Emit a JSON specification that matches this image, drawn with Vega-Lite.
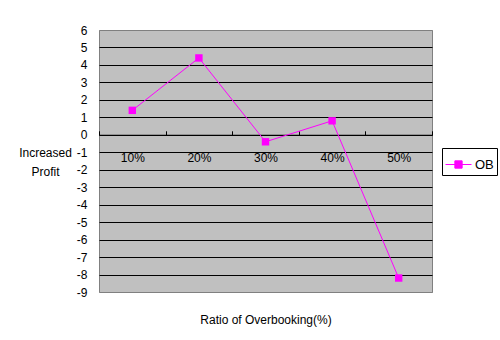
{
  "$schema": "https://vega.github.io/schema/vega-lite/v6.json",
  "autosize": "none",
  "width": 333,
  "height": 262,
  "padding": {"left": 99, "top": 30, "right": 68, "bottom": 48},
  "background": "white",
  "config": {
    "font": "Liberation Sans",
    "view": {"fill": "#c0c0c0", "stroke": "#808080", "strokeWidth": 1}
  },
  "data": {
    "values": [
      {"ratio": "10%", "profit": 1.4, "series": "OB"},
      {"ratio": "20%", "profit": 4.4, "series": "OB"},
      {"ratio": "30%", "profit": -0.4, "series": "OB"},
      {"ratio": "40%", "profit": 0.8, "series": "OB"},
      {"ratio": "50%", "profit": -8.2, "series": "OB"}
    ]
  },
  "layer": [
    {
      "mark": {"type": "line", "strokeWidth": 1},
      "encoding": {
        "x": {
          "field": "ratio", "type": "nominal",
          "scale": {"type": "band", "paddingInner": 0, "paddingOuter": 0},
          "axis": {
            "orient": "bottom",
            "offset": -157.2,
            "labelAngle": 0,
            "labelFontSize": 12,
            "labelColor": "black",
            "labelPadding": 22,
            "tickBand": "extent",
            "tickSize": -4,
            "tickColor": "black",
            "domainColor": "black",
            "domainWidth": 1.2,
            "grid": false,
            "title": "Ratio of Overbooking(%)",
            "titleFontSize": 12,
            "titleFontWeight": "normal",
            "titleColor": "black",
            "titleY": 184.2,
            "titleBaseline": "middle"
          }
        },
        "y": {
          "field": "profit", "type": "quantitative",
          "scale": {"domain": [-9, 6], "nice": false, "zero": false},
          "axis": {
            "values": [-9, -8, -7, -6, -5, -4, -3, -2, -1, 0, 1, 2, 3, 4, 5, 6],
            "tickCount": 30,
            "labelOverlap": false,
            "labelBound": false,
            "labelExpr": "'' + datum.value",
            "labelFontSize": 12,
            "labelColor": "black",
            "labelPadding": 12,
            "ticks": false,
            "domain": false,
            "grid": true,
            "gridColor": {"condition": {"test": "datum.value == 6 || datum.value == -9", "value": "#808080"}, "value": "black"},
            "gridWidth": 1,
            "gridOpacity": 1,
            "title": ["Increased", "Profit"],
            "titleAngle": 0,
            "titleAlign": "center",
            "titleBaseline": "middle",
            "titleFontSize": 12,
            "titleFontWeight": "normal",
            "titleColor": "black",
            "titleLineHeight": 19.5,
            "titleX": -54,
            "titleY": 122
          }
        },
        "color": {
          "field": "series", "type": "nominal",
          "scale": {"range": ["#ff00ff"]},
          "legend": {
            "title": null,
            "orient": "none",
            "legendX": 343,
            "legendY": 118,
            "strokeColor": "black",
            "fillColor": "white",
            "padding": 3,
            "symbolType": "M-1,0H1M-0.28,-0.28H0.28V0.28H-0.28Z",
            "symbolSize": 676,
            "symbolStrokeWidth": 1,
            "symbolFillColor": "#ff00ff",
            "symbolStrokeColor": "#ff00ff",
            "labelFontSize": 13,
            "labelColor": "black",
            "labelOffset": 3
          }
        }
      }
    },
    {
      "mark": {"type": "point", "shape": "square", "filled": true, "size": 55, "opacity": 1},
      "encoding": {
        "x": {"field": "ratio", "type": "nominal"},
        "y": {"field": "profit", "type": "quantitative"},
        "color": {"field": "series", "type": "nominal"}
      }
    }
  ]
}
